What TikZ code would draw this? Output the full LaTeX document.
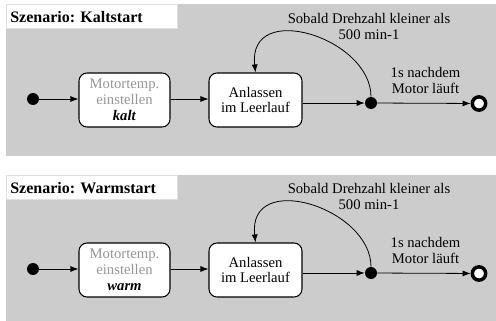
\documentclass[tikz,border=0pt]{standalone}
\usepackage{fontspec}
\setmainfont{Liberation Serif}
\usetikzlibrary{arrows.meta}
\definecolor{panelgray}{RGB}{204,204,204}
\definecolor{txtgray}{RGB}{150,150,150}
\tikzset{
  statebox/.style={draw=black, fill=white, rounded corners=6pt, line width=0.8pt,
    minimum height=40.5pt, align=center, inner sep=0pt,
    font=\fontsize{11}{11.8}\selectfont},
  initdot/.style={circle, fill=black, minimum size=9pt, inner sep=0pt},
  finaldot/.style={circle, draw=black, line width=2.6pt, fill=white, minimum size=10pt, inner sep=0pt},
  trans/.style={-{Latex[length=6pt,width=4.5pt]}, line width=0.6pt},
  lbl/.style={align=center, inner sep=0pt, font=\fontsize{11}{12}\selectfont},
  bgpanel/.style={fill=panelgray, draw=none},
  titlebox/.style={fill=white, draw=black!12, line width=0.5pt},
  titletext/.style={anchor=west, inner sep=0pt, font=\fontsize{12}{13}\selectfont\bfseries}
}
\newcommand\scenpanel[3]{%
  \begin{scope}[shift={(0,#1)}]
    \node[initdot] (#2-init) at (33,99) {};
    \node[statebox, minimum width=68.25pt] (#2-box1) at (124.5,100)
      {\textcolor{txtgray}{Motortemp.}\\\textcolor{txtgray}{einstellen}\\\textbf{\textit{#3}}};
    \node[statebox, minimum width=69.75pt] (#2-box2) at (255.5,100) {Anlassen\\im Leerlauf};
    \node[initdot] (#2-junc) at (371,103) {};
    \node[finaldot] (#2-final) at (479,103.5) {};
    \node[lbl] (#2-lblA) at (369,26) {Sobald Drehzahl kleiner als\\500 min-1};
    \node[lbl] (#2-lblB) at (425.5,80) {1s nachdem\\Motor läuft};
    \draw[trans] (#2-init) -- (#2-init -| #2-box1.west);
    \draw[trans] (#2-box1.east |- #2-init) -- (#2-box2.west |- #2-init);
    \draw[trans] (#2-box2.east |- #2-junc) -- (#2-junc);
    \draw[trans] (#2-junc) -- (#2-final);
    \draw[trans] (#2-junc.north) .. controls +(0,-59) and +(-8,-73) .. (#2-box2.north);
  \end{scope}}
\begin{document}
\begin{tikzpicture}[x=0.75pt, y=-0.75pt]
  \useasboundingbox (0,0) rectangle (496,321);
  \fill[white] (0,0) rectangle (496,321);
  % panel 1
  \path[bgpanel] (6,4) rectangle (496,156);
  \path[titlebox] (6,4) rectangle (177,28);
  \node[titletext] (t1) at (10,17) {Szenario: Kaltstart};
  \scenpanel{0}{a}{kalt}
  % panel 2
  \path[bgpanel] (6,175) rectangle (496,330);
  \path[titlebox] (6,175) rectangle (177,199);
  \node[titletext] (t2) at (10,188) {Szenario: Warmstart};
  \scenpanel{170}{b}{warm}
\end{tikzpicture}
\end{document}
